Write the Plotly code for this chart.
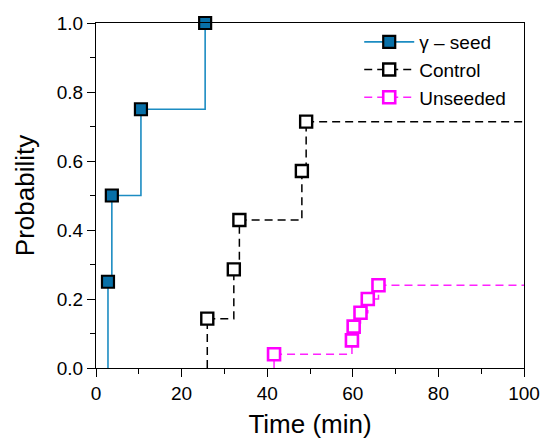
import plotly.graph_objects as go

# Cumulative probability of an event vs. time for three conditions
gamma_time = [2.8, 3.7, 10.5, 25.5]
gamma_prob = [0.25, 0.50, 0.75, 1.00]

control_time = [26.0, 32.2, 33.5, 48.1, 49.1]
control_prob = [0.143, 0.286, 0.429, 0.571, 0.714]

unseeded_time = [41.6, 59.8, 60.2, 61.8, 63.5, 66.0]
unseeded_prob = [0.04, 0.08, 0.12, 0.16, 0.20, 0.24]

x_end = 100

FONT = "Liberation Sans, Arial, sans-serif"

series = [
    dict(name="\u03b3 \u2013 seed", t=gamma_time, p=gamma_prob,
         line=dict(color="#1c8cc2", width=1.6, shape="hv"),
         marker=dict(symbol="square", size=12, color="#0870a8",
                     line=dict(color="black", width=2.2)),
         tail=False),
    dict(name="Control", t=control_time, p=control_prob,
         line=dict(color="black", width=1.5, shape="hv", dash="8px,5px"),
         marker=dict(symbol="square", size=12, color="white",
                     line=dict(color="black", width=2.4)),
         tail=True),
    dict(name="Unseeded", t=unseeded_time, p=unseeded_prob,
         line=dict(color="#ff22ff", width=1.5, shape="hv", dash="8px,5px"),
         marker=dict(symbol="square", size=12, color="white",
                     line=dict(color="#ff00ff", width=2.6)),
         tail=True),
]

fig = go.Figure()

# step extensions: rise from zero at the first event, plateau to the end of the axis
for s in series:
    fig.add_trace(go.Scatter(
        x=[s["t"][0], s["t"][0]], y=[0, s["p"][0]],
        mode="lines", line=s["line"], showlegend=False, hoverinfo="skip"))
    if s["tail"]:
        fig.add_trace(go.Scatter(
            x=[s["t"][-1], x_end], y=[s["p"][-1], s["p"][-1]],
            mode="lines", line=s["line"], showlegend=False, hoverinfo="skip"))

for s in series:
    fig.add_trace(go.Scatter(
        x=s["t"], y=s["p"], name=s["name"], mode="lines+markers",
        line=s["line"], marker=s["marker"], cliponaxis=False))

axis_common = dict(
    showline=True, linecolor="black", linewidth=1.3, mirror=True,
    ticks="outside", ticklen=8, tickwidth=1.3, tickcolor="black",
    showgrid=False, zeroline=False,
    tickfont=dict(family=FONT, size=19, color="black"),
)

fig.update_xaxes(
    range=[0, 100], dtick=20, tick0=0,
    minor=dict(ticks="outside", ticklen=5, tickwidth=1.3, tickcolor="black", dtick=10),
    title=dict(text="Time (min)", font=dict(family=FONT, size=26, color="black"), standoff=11),
    **axis_common)
fig.update_yaxes(
    range=[0, 1], dtick=0.2, tick0=0, tickformat=".1f",
    minor=dict(ticks="outside", ticklen=5, tickwidth=1.3, tickcolor="black", dtick=0.1),
    title=dict(text="Probability", font=dict(family=FONT, size=26, color="black"), standoff=14),
    **axis_common)

fig.update_layout(
    width=544, height=443,
    margin=dict(l=96, r=20, t=23, b=75, autoexpand=False),
    paper_bgcolor="white", plot_bgcolor="white",
    legend=dict(x=0.615, xanchor="left", y=1.0, yanchor="top",
                itemwidth=50, bgcolor="rgba(0,0,0,0)", tracegroupgap=0,
                font=dict(family=FONT, size=19, color="black")),
)

fig.write_html("out.html")
